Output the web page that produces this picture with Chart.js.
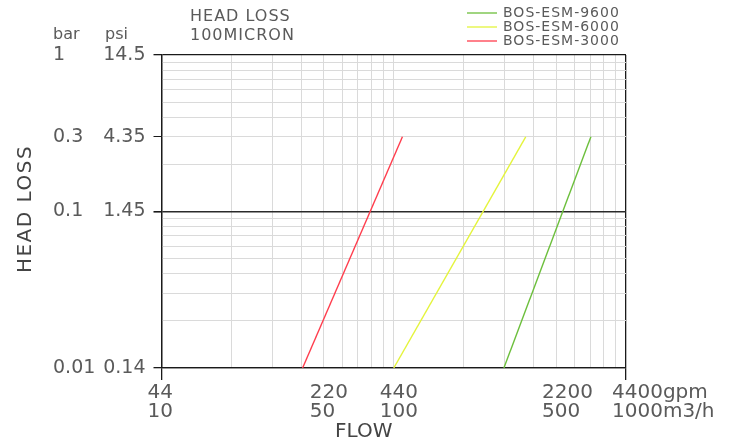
<!DOCTYPE html>
<html>
<head>
<meta charset="utf-8">
<script src="https://cdn.jsdelivr.net/npm/chart.js@4.4.0/dist/chart.umd.min.js"></script>
<style>
  html, body { margin: 0; padding: 0; background: #fff; }
  #wrap { width: 739px; height: 442px; }
</style>
</head>
<body>
<div id="wrap"><canvas id="headLossChart"></canvas></div>
<script>
// Series (flow in m3/h, head loss in bar)
const seriesNames = ['BOS-ESM-9600', 'BOS-ESM-6000', 'BOS-ESM-3000'];
const seriesColors = ['#6cbf3c', '#e4f43c', '#ff3d4d'];
const flow9600 = [298, 706];
const flow6000 = [100, 370];
const flow3000 = [40.5, 109];
const headLoss = [0.01, 0.3];

// Axis ticks
const flowTicks = [10, 50, 100, 500, 1000];
const gpmLabels = ['44', '220', '440', '2200', '4400gpm'];
const m3hLabels = ['10', '50', '100', '500', '1000m3/h'];
const barTicks = [0.01, 0.1, 0.3, 1];
const barLabels = ['0.01', '0.1', '0.3', '1'];
const psiLabels = ['0.14', '1.45', '4.35', '14.5'];

const TEXT = '#5a5a5a';
const GRID = '#dadada';
const EDGE = '#1a1a1a';

// log grid: 1..9 in each decade
function decadeGrid(from, to) {
    const out = [];
    for (let d = from; d < to; d *= 10) {
        for (let k = 1; k < 10; k++) out.push(+(k * d).toPrecision(3));
    }
    out.push(to);
    return out;
}

function toPoints(xs) {
    return xs.map((x, i) => ({ x: x, y: headLoss[i] }));
}

const allFlows = [flow9600, flow6000, flow3000];

// Texte fixe: titres, en-têtes, légende
const cadText = {
    id: 'cadText',
    afterDraw(chart) {
        const ctx = chart.ctx;
        ctx.save();
        ctx.fillStyle = TEXT;
        ctx.textBaseline = 'middle';

        ctx.font = '16px "DejaVu Sans"';
        ctx.letterSpacing = '1px';
        ctx.textAlign = 'left';
        ctx.fillText('HEAD LOSS', 190, 17);
        ctx.fillText('100MICRON', 190, 36);
        ctx.letterSpacing = '0px';
        ctx.fillText('bar', 53, 35);
        ctx.fillText('psi', 105, 35);

        // legend
        ctx.font = '14px "DejaVu Sans"';
        ctx.letterSpacing = '1px';
        chart.data.datasets.forEach((ds, i) => {
            const y = 13 + i * 14;
            ctx.strokeStyle = ds.borderColor;
            ctx.lineWidth = 1.3;
            ctx.beginPath();
            ctx.moveTo(467, y);
            ctx.lineTo(497, y);
            ctx.stroke();
            ctx.fillText(ds.label, 503, y);
        });

        // axis titles
        ctx.fillStyle = '#444';
        ctx.font = '20px "DejaVu Sans"';
        ctx.letterSpacing = '0px';
        ctx.fillText('FLOW', 335, 432);
        ctx.translate(26, 209);
        ctx.rotate(-Math.PI / 2);
        ctx.textAlign = 'center';
        ctx.letterSpacing = '1.5px';
        ctx.fillText('HEAD LOSS', 0, 0);
        ctx.restore();
    }
};

const ctx = document.getElementById('headLossChart').getContext('2d');
const chart = new Chart(ctx, {
    type: 'line',
    data: {
        datasets: seriesNames.map((name, i) => ({
            label: name,
            data: toPoints(allFlows[i]),
            borderColor: seriesColors[i],
            backgroundColor: seriesColors[i],
            borderWidth: 1.4,
            pointRadius: 0,
            tension: 0,
            yAxisID: 'y'
        }))
    },
    options: {
        responsive: true,
        maintainAspectRatio: false,
        animation: false,
        layout: { padding: { left: 53, right: 113, top: 55, bottom: 0 } },
        plugins: {
            legend: { display: false },
            tooltip: { enabled: false }
        },
        scales: {
            x: {
                type: 'logarithmic',
                min: 10,
                max: 1000,
                afterBuildTicks: scale => {
                    scale.ticks = decadeGrid(10, 1000).map(v => ({ value: v }));
                },
                afterFit: scale => { scale.height = 74; },
                border: { color: EDGE, width: 1.3 },
                grid: {
                    color: c => (c.tick && (c.tick.value === 10 || c.tick.value === 1000)) ? EDGE : GRID,
                    lineWidth: c => (c.tick && (c.tick.value === 10 || c.tick.value === 1000)) ? 1.3 : 1,
                    tickColor: c => (c.tick && (c.tick.value === 10 || c.tick.value === 1000)) ? EDGE : 'rgba(0,0,0,0)',
                    tickLength: 12
                },
                ticks: {
                    autoSkip: false,
                    maxRotation: 0,
                    align: 'start',
                    labelOffset: -14,
                    padding: 3,
                    color: TEXT,
                    font: { family: 'DejaVu Sans', size: 20, lineHeight: 0.95 },
                    callback: value => {
                        const i = flowTicks.indexOf(value);
                        return i < 0 ? '' : [gpmLabels[i], m3hLabels[i]];
                    }
                }
            },
            y: {
                type: 'logarithmic',
                position: 'left',
                weight: 0,
                min: 0.01,
                max: 1,
                afterBuildTicks: scale => {
                    scale.ticks = decadeGrid(0.01, 1).map(v => ({ value: v }));
                },
                afterFit: scale => { scale.width = 62.5; },
                border: { color: EDGE, width: 1.3 },
                grid: {
                    color: c => {
                        const v = c.tick && c.tick.value;
                        if (v === 1 || v === 0.01) return EDGE;
                        if (v === 0.1) return '#2a2a2a';
                        return GRID;
                    },
                    lineWidth: c => {
                        const v = c.tick && c.tick.value;
                        if (v === 0.1) return 1.6;
                        return (v === 1 || v === 0.01) ? 1.3 : 1;
                    },
                    tickColor: c => barTicks.includes(c.tick && c.tick.value) ? EDGE : 'rgba(0,0,0,0)',
                    tickLength: 8
                },
                ticks: {
                    autoSkip: false,
                    padding: 8,
                    color: TEXT,
                    font: { family: 'DejaVu Sans', size: 19 },
                    callback: value => {
                        const i = barTicks.indexOf(value);
                        return i < 0 ? '' : psiLabels[i];
                    }
                }
            },
            yBar: {
                type: 'logarithmic',
                position: 'left',
                weight: 1,
                min: 0.01,
                max: 1,
                afterBuildTicks: scale => {
                    scale.ticks = barTicks.map(v => ({ value: v }));
                },
                afterFit: scale => { scale.width = 46; },
                border: { display: false },
                grid: { display: false, drawTicks: false },
                ticks: {
                    autoSkip: false,
                    crossAlign: 'far',
                    padding: 0,
                    color: TEXT,
                    font: { family: 'DejaVu Sans', size: 19 },
                    callback: value => {
                        const i = barTicks.indexOf(value);
                        return i < 0 ? '' : barLabels[i];
                    }
                }
            }
        }
    },
    plugins: [cadText]
});
</script>
</body>
</html>
